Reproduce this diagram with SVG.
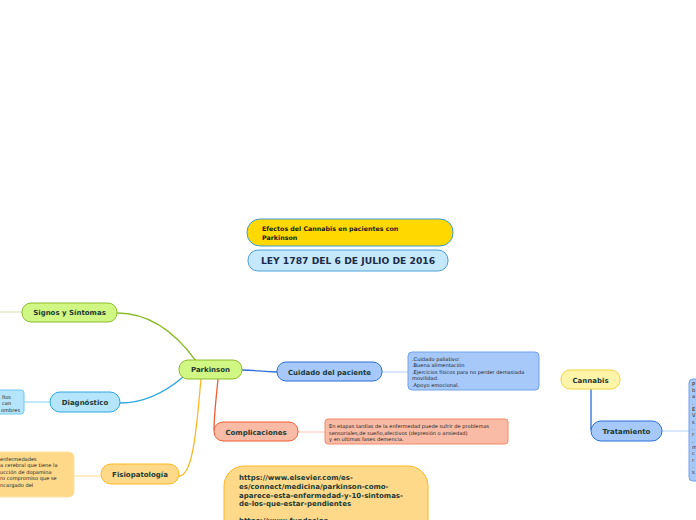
<svg xmlns="http://www.w3.org/2000/svg" width="696" height="520" viewBox="0 0 696 520">
<style>
text{font-family:"DejaVu Sans",Verdana,sans-serif;fill:#1c3a34}
.n{font-weight:bold;font-size:7px;text-anchor:middle}
.s{font-size:5.1px;fill:#222}
.u{font-weight:bold;font-size:7px;fill:#1c3a34}
.g{fill:#d0f683;stroke:#8cbc2a;stroke-width:1}
.b{fill:#b5e5fb;stroke:#2aa6e0;stroke-width:1}
.bl{fill:#a6c9fa;stroke:#2c6ed6;stroke-width:1}
.bd{fill:#a6c9fa;stroke:#72a2ea;stroke-width:1}
.r{fill:#f9bba5;stroke:#ee5e33;stroke-width:1}
.rd{fill:#f9bba5;stroke:#f28b6a;stroke-width:1}
.o{fill:#fed98a;stroke:#fbb824;stroke-width:1}
.c{fill:none;stroke-width:1.3}
</style>
<g id="connectors">
<path class="c" d="M196,361 C178,336 152,313 117,313" stroke="#8cbc2a"/>
<path class="c" d="M0,312 L22,312" stroke="#dfe9bd"/>
<path class="c" d="M183,377 C162,395 142,403 120,403" stroke="#2aa6e0"/>
<path class="c" d="M24,402 L50,402" stroke="#9fdcf5"/>
<path class="c" d="M201,379 C197,420 194,476 179,476" stroke="#fbb824"/>
<path class="c" d="M74,476 L101,476" stroke="#fde3a8"/>
<path class="c" d="M218,379 C216,400 214,415 214,430" stroke="#ee5e33"/>
<path class="c" d="M298,432 L325,432" stroke="#fbd3c3"/>
<path class="c" d="M242,370 C256,370 262,372 277,372" stroke="#2c6ed6" stroke-width="1.8"/>
<path class="c" d="M382,372 L408,372" stroke="#c5dafb"/>
<path class="c" d="M591,389 L591,430" stroke="#2c6ed6" stroke-width="1.8"/>
<path class="c" d="M662,431 L689,431" stroke="#c5dafb"/>
</g>
<g id="title">
<rect x="247" y="219" width="206" height="27" rx="13" fill="#ffd800" stroke="#3d9ad8"/>
<text x="262" y="231" style="font-weight:bold;font-size:6.3px;fill:#1a1a1a">Efectos del Cannabis en pacientes con</text>
<text x="262" y="240" style="font-weight:bold;font-size:6.3px;fill:#1a1a1a">Parkinson</text>
</g>
<g id="ley">
<rect x="248" y="250" width="200" height="21" rx="10" fill="#c5e9fb" stroke="#4c9fd8"/>
<text x="348" y="264" style="font-weight:bold;font-size:9.2px;text-anchor:middle;fill:#1b2b4a">LEY 1787 DEL 6 DE JULIO DE 2016</text>
</g>
<g id="signos">
<rect class="g" x="22" y="303" width="95" height="19" rx="9"/>
<text class="n" x="69.5" y="315">Signos y Síntomas</text>
</g>
<g id="parkinson">
<rect class="g" x="179" y="360" width="63" height="19" rx="9"/>
<text class="n" x="210.5" y="372">Parkinson</text>
</g>
<g id="diagnostico">
<rect class="b" x="50" y="392" width="70" height="20" rx="10"/>
<text class="n" x="85" y="404.5">Diagnóstico</text>
</g>
<g id="diagnostico-detalle">
<rect x="-10" y="390" width="34" height="24" rx="3" fill="#b5e5fb" stroke="#6cc8ef"/>
<text class="s" x="2" y="398.5">fios</text>
<text class="s" x="2" y="405">can</text>
<text class="s" x="1" y="411.5">ombres</text>
</g>
<g id="fisiopatologia">
<rect class="o" x="101" y="464" width="78" height="20" rx="10"/>
<text class="n" x="140" y="477">Fisiopatología</text>
</g>
<g id="fisiopatologia-detalle">
<rect x="-10" y="452" width="84" height="45" rx="5" fill="#fed98a" stroke="#fde3a8"/>
<text class="s" x="0" y="461">  enfermedades</text>
<text class="s" x="0" y="467.3">a cerebral que tiene la</text>
<text class="s" x="0" y="473.6">ucción de dopamina</text>
<text class="s" x="0" y="480">ro compromiso que se</text>
<text class="s" x="0" y="486.5">ncargado del</text>
</g>
<g id="complicaciones">
<rect class="r" x="214" y="422" width="84" height="19" rx="9"/>
<text class="n" x="256" y="434.5">Complicaciones</text>
</g>
<g id="complicaciones-detalle">
<rect class="rd" x="325" y="419" width="183" height="25" rx="3"/>
<text class="s" x="329" y="428">En etapas tardías de la enfermedad puede sufrir de problemas</text>
<text class="s" x="329" y="434.5">sensoriales,de sueño,afectivos (depresión o ansiedad)</text>
<text class="s" x="329" y="441">y en ultimas fases demencia.</text>
</g>
<g id="cuidado">
<rect class="bl" x="277" y="362" width="105" height="19" rx="9"/>
<text class="n" x="329.5" y="374.5">Cuidado del paciente</text>
</g>
<g id="cuidado-detalle">
<rect class="bd" x="408" y="352" width="131" height="38" rx="4"/>
<text class="s" x="412" y="360.5">.Cuidado paliativo:</text>
<text class="s" x="412" y="367">.Buena alimentación</text>
<text class="s" x="412" y="373.5">.Ejercicios físicos para no perder demasiada</text>
<text class="s" x="412" y="380">movilidad.</text>
<text class="s" x="412" y="386.5">.Apoyo emocional.</text>
</g>
<g id="cannabis">
<rect x="561" y="370" width="59" height="19" rx="9" fill="#fff4a8" stroke="#f2d43a"/>
<text class="n" x="590.5" y="382.5">Cannabis</text>
</g>
<g id="tratamiento">
<rect class="bl" x="591" y="421" width="71" height="20" rx="10"/>
<text class="n" x="626.5" y="433.5">Tratamiento</text>
</g>
<g id="tratamiento-detalle">
<rect class="bd" x="689" y="379" width="20" height="102" rx="4"/>
<text class="s" x="692" y="386">P</text>
<text class="s" x="692" y="392">b</text>
<text class="s" x="692" y="398">a</text>
<text class="s" x="692" y="405">.</text>
<text class="s" x="692" y="411">E</text>
<text class="s" x="692" y="417">V</text>
<text class="s" x="692" y="424">s</text>
<text class="s" x="692" y="430">.</text>
<text class="s" x="692" y="436">r</text>
<text class="s" x="692" y="443">.</text>
<text class="s" x="692" y="449">m</text>
<text class="s" x="692" y="455">c</text>
<text class="s" x="692" y="462">r</text>
<text class="s" x="692" y="468">.</text>
<text class="s" x="692" y="474">s</text>
</g>
<g id="referencias">
<rect class="o" x="224" y="466" width="204" height="80" rx="20"/>
<text class="u" x="239" y="480">https://www.elsevier.com/es-</text>
<text class="u" x="239" y="489">es/connect/medicina/parkinson-como-</text>
<text class="u" x="239" y="497.5">aparece-esta-enfermedad-y-10-sintomas-</text>
<text class="u" x="239" y="506">de-los-que-estar-pendientes</text>
<text class="u" x="239" y="523">https://www.fundacion-</text>
</g>
</svg>
